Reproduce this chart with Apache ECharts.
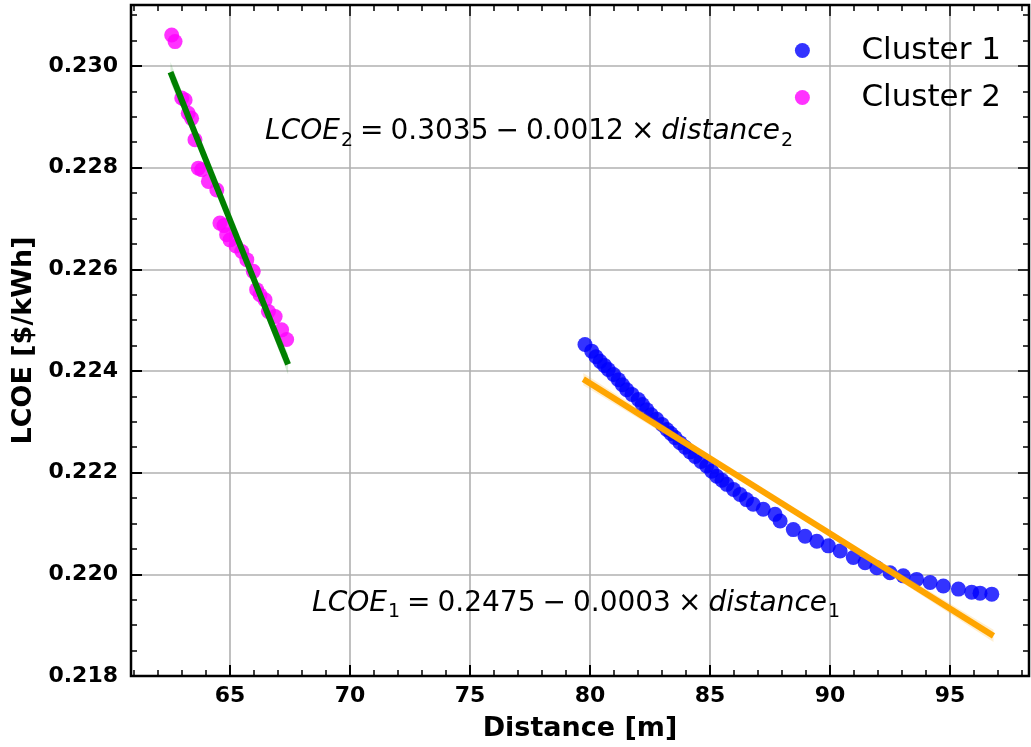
<!DOCTYPE html>
<html>
<head>
<meta charset="utf-8">
<script src="https://cdn.jsdelivr.net/npm/echarts@6/dist/echarts.min.js"></script>
<style>
html,body{margin:0;padding:0;background:#fff;}
#chart{width:1031px;height:747px;}
</style>
</head>
<body>
<div id="chart"></div>
<script>
// ---- data ----
const seriesNames = ['Cluster 1', 'Cluster 2'];

const cluster1X = [79.79, 80.07, 80.25, 80.42, 80.60, 80.76, 80.98, 81.18, 81.35, 81.53, 81.75, 82.01, 82.18, 82.36, 82.55, 82.78, 83.00, 83.20, 83.37, 83.54, 83.75, 83.96, 84.17, 84.38, 84.62, 84.86, 85.07, 85.28, 85.50, 85.70, 85.98, 86.25, 86.52, 86.80, 87.22, 87.71, 87.92, 88.47, 88.96, 89.45, 89.93, 90.42, 90.97, 91.46, 91.95, 92.50, 93.05, 93.61, 94.17, 94.72, 95.35, 95.90, 96.25, 96.74];
const cluster1Y = [0.22452, 0.22439, 0.22428, 0.22419, 0.22411, 0.22403, 0.22393, 0.22383, 0.22373, 0.22363, 0.22354, 0.22344, 0.22334, 0.22324, 0.22314, 0.22305, 0.22295, 0.22285, 0.22277, 0.22269, 0.22259, 0.22250, 0.22241, 0.22232, 0.22222, 0.22213, 0.22203, 0.22193, 0.22185, 0.22177, 0.22167, 0.22157, 0.22147, 0.22138, 0.22128, 0.22118, 0.22105, 0.22088, 0.22075, 0.22065, 0.22056, 0.22046, 0.22033, 0.22023, 0.22013, 0.22003, 0.21997, 0.21990, 0.21984, 0.21977, 0.21971, 0.21965, 0.21963, 0.21961];

const cluster2X = [62.57, 62.71, 62.99, 63.13, 63.26, 63.40, 63.54, 63.68, 63.82, 64.10, 64.45, 64.58, 64.75, 64.86, 65.00, 65.25, 65.49, 65.70, 65.97, 66.11, 66.25, 66.46, 66.60, 66.88, 67.15, 67.36];
const cluster2Y = [0.23061, 0.23048, 0.22937, 0.22933, 0.22907, 0.22897, 0.22855, 0.22799, 0.22796, 0.22773, 0.22756, 0.22691, 0.22686, 0.22668, 0.22658, 0.22646, 0.22635, 0.22619, 0.22596, 0.22560, 0.22550, 0.22540, 0.22517, 0.22507, 0.22481, 0.22462];

// regression lines (end points)
const fit1X = [79.72, 96.81];
const fit1Y = [0.22384, 0.21879];
const fit2X = [62.52, 67.42];
const fit2Y = [0.22988, 0.22413];

// confidence bands
const band1X = [79.72, 88.27, 96.81];
const band1Upper = [0.22396, 0.22135, 0.21891];
const band1Lower = [0.22372, 0.22129, 0.21867];
const band2X = [62.52, 64.97, 67.42];
const band2Upper = [0.23008, 0.22705, 0.22433];
const band2Lower = [0.22968, 0.22695, 0.22393];

// annotations
const SP = '\u2005';
const eqTexts = [
  {pre: 'LCOE', sub: '2', mid: SP + '=' + SP + '0.3035' + SP + '−' + SP + '0.0012' + SP + '×' + SP, post: 'distance', sub2: '2', x: 66.46, y: 0.22870},
  {pre: 'LCOE', sub: '1', mid: SP + '=' + SP + '0.2475' + SP + '−' + SP + '0.0003' + SP + '×' + SP, post: 'distance', sub2: '1', x: 68.42, y: 0.21943}
];

// ticks
const xMajor = [65, 70, 75, 80, 85, 90, 95];
const xMinor = [61, 62, 63, 64, 66, 67, 68, 69, 71, 72, 73, 74, 76, 77, 78, 79, 81, 82, 83, 84, 86, 87, 88, 89, 91, 92, 93, 94, 96, 97, 98];
const yMajor = [0.218, 0.220, 0.222, 0.224, 0.226, 0.228, 0.230];
const yMinor = [0.2185, 0.219, 0.2195, 0.2205, 0.221, 0.2215, 0.2225, 0.223, 0.2235, 0.2245, 0.225, 0.2255, 0.2265, 0.227, 0.2275, 0.2285, 0.229, 0.2295, 0.2305, 0.231];

const xMin = 60.875, xMax = 98.29;
const yMin = 0.218, yMax = 0.2312;

// ---- chart ----
const FONT = 'DejaVu Sans';
const zip = (a, b) => a.map((v, i) => [v, b[i]]);

function xAx(pos, ticks, len, major) {
  return {
    type: 'value', min: xMin, max: xMax, position: pos, gridIndex: 0,
    axisLine: {show: false, onZero: false},
    axisTick: {show: true, inside: true, length: len, customValues: ticks,
      lineStyle: {color: '#000', width: major ? 2 : 1.5}},
    axisLabel: major && pos === 'bottom' ? {show: true, customValues: ticks, margin: 9,
      fontFamily: FONT, fontWeight: 'bold', fontSize: 22, color: '#000',
      formatter: v => String(Math.round(v))} : {show: false},
    splitLine: major && pos === 'bottom' ? {show: true, lineStyle: {color: '#b0b0b0', width: 1.6}} : {show: false},
    name: major && pos === 'bottom' ? 'Distance [m]' : '',
    nameLocation: 'middle', nameGap: 39,
    nameTextStyle: {fontFamily: FONT, fontWeight: 'bold', fontSize: 27, color: '#000'}
  };
}
function yAx(pos, ticks, len, major) {
  return {
    type: 'value', min: yMin, max: yMax, position: pos, gridIndex: 0,
    axisLine: {show: false, onZero: false},
    axisTick: {show: true, inside: true, length: len, customValues: ticks,
      lineStyle: {color: '#000', width: major ? 2 : 1.5}},
    axisLabel: major && pos === 'left' ? {show: true, customValues: ticks, margin: 13,
      fontFamily: FONT, fontWeight: 'bold', fontSize: 22, color: '#000',
      formatter: v => v.toFixed(3)} : {show: false},
    splitLine: major && pos === 'left' ? {show: true, lineStyle: {color: '#b0b0b0', width: 1.6}} : {show: false},
    name: major && pos === 'left' ? 'LCOE [$/kWh]' : '',
    nameLocation: 'middle', nameGap: 88,
    nameTextStyle: {fontFamily: FONT, fontWeight: 'bold', fontSize: 27, color: '#000'}
  };
}

function bandSeries(bx, up, lo, color) {
  return {
    type: 'custom', xAxisIndex: 0, yAxisIndex: 0, z: 3, silent: true,
    data: [[bx[0], up[0]]],
    renderItem: (params, api) => {
      const pts = [];
      for (let i = 0; i < bx.length; i++) pts.push(api.coord([bx[i], up[i]]));
      for (let i = bx.length - 1; i >= 0; i--) pts.push(api.coord([bx[i], lo[i]]));
      return {type: 'polygon', shape: {points: pts}, style: {fill: color}};
    }
  };
}

const richStyles = {
  it: {fontFamily: FONT, fontStyle: 'italic', fontSize: 28, color: '#000', lineHeight: 36, verticalAlign: 'middle'},
  rm: {fontFamily: FONT, fontSize: 28, color: '#000', lineHeight: 36, verticalAlign: 'middle'},
  sb: {fontFamily: FONT, fontSize: 19, color: '#000', lineHeight: 36, verticalAlign: 'bottom', padding: [0, 0, 0, 1]}
};

const option = {
  backgroundColor: '#fff',
  animation: false,
  grid: {left: 131, top: 5, width: 898, height: 672, show: true, borderColor: '#000', borderWidth: 2.5, backgroundColor: 'transparent', z: 10},
  legend: {
    data: seriesNames, orient: 'vertical', right: 30, top: 35, padding: 0,
    itemWidth: 108, itemHeight: 15, itemGap: 16, icon: 'circle',
    textStyle: {fontFamily: FONT, fontSize: 31, color: '#000', lineHeight: 31}
  },
  xAxis: [xAx('bottom', xMajor, 11, true), xAx('bottom', xMinor, 6, false), xAx('top', xMajor, 11, false), xAx('top', xMinor, 6, false)],
  yAxis: [yAx('left', yMajor, 11, true), yAx('left', yMinor, 6, false), yAx('right', yMajor, 11, false), yAx('right', yMinor, 6, false)],
  series: [
    {name: 'Cluster 1', type: 'scatter', xAxisIndex: 0, yAxisIndex: 0, symbolSize: 15, z: 2,
      itemStyle: {color: '#0000ff', opacity: 0.8}, data: zip(cluster1X, cluster1Y)},
    {name: 'Cluster 2', type: 'scatter', xAxisIndex: 0, yAxisIndex: 0, symbolSize: 15, z: 2,
      itemStyle: {color: '#ff00ff', opacity: 0.8}, data: zip(cluster2X, cluster2Y)},
    bandSeries(band1X, band1Upper, band1Lower, 'rgba(255,165,0,0.18)'),
    bandSeries(band2X, band2Upper, band2Lower, 'rgba(0,128,0,0.15)'),
    {name: 'fit1', type: 'line', xAxisIndex: 0, yAxisIndex: 0, symbol: 'none', z: 4, silent: true,
      lineStyle: {color: '#ffa500', width: 6, cap: 'butt'}, data: zip(fit1X, fit1Y)},
    {name: 'fit2', type: 'line', xAxisIndex: 0, yAxisIndex: 0, symbol: 'none', z: 4, silent: true,
      lineStyle: {color: '#008000', width: 6, cap: 'butt'}, data: zip(fit2X, fit2Y)},
    {name: 'equations', type: 'scatter', xAxisIndex: 0, yAxisIndex: 0, symbolSize: 0, z: 5, silent: true,
      itemStyle: {opacity: 1, color: 'transparent'},
      data: eqTexts.map(e => [e.x, e.y]),
      label: {show: true, position: 'right', distance: 0, color: '#000', opacity: 1,
        formatter: p => {
          const e = eqTexts[p.dataIndex];
          return '{it|' + e.pre + '}{sb|' + e.sub + '}{rm|' + e.mid + '}{it|' + e.post + '}{sb|' + e.sub2 + '}';
        },
        rich: richStyles}
    }
  ]
};

const chart = echarts.init(document.getElementById('chart'), null, {renderer: 'canvas'});
chart.setOption(option);
</script>
</body>
</html>
